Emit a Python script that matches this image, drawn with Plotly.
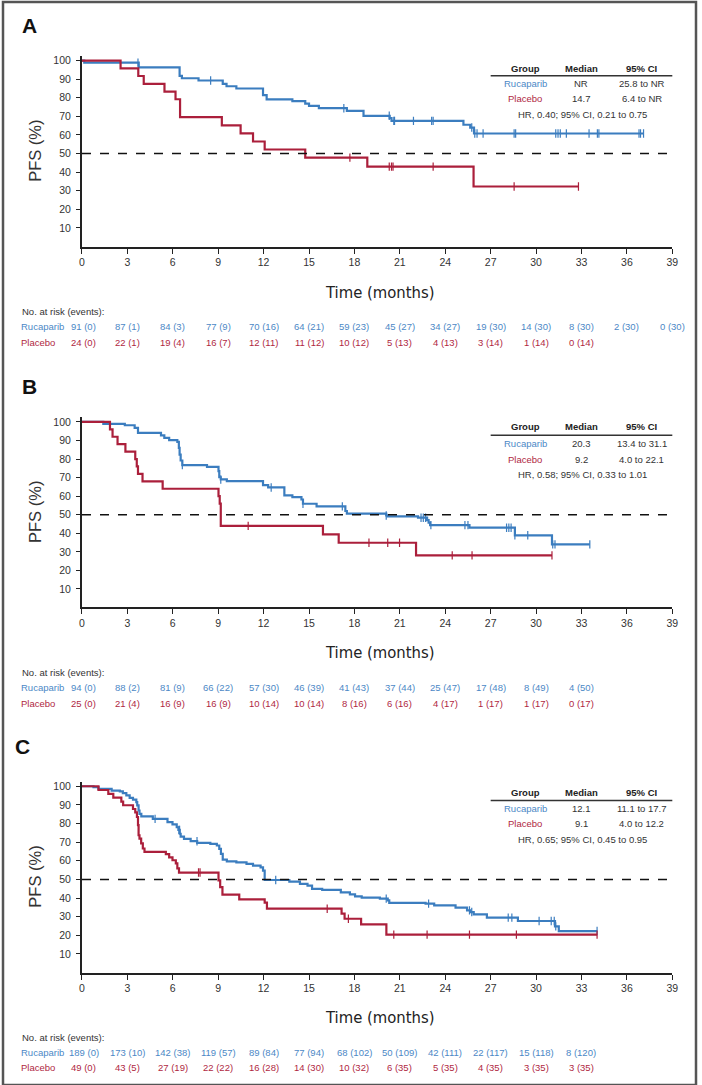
import plotly.graph_objects as go

W, H = 702, 1085
BLUE = "#3b7dbf"
RED = "#ab1f3b"
BLUE_TXT = "#4c88c6"
RED_TXT = "#b0283f"
DARK = "#222222"
FONT = "Liberation Sans, Arial, Helvetica, sans-serif"
NARROW = "Liberation Sans Narrow, Arial Narrow, DejaVu Sans Condensed, sans-serif"

month_ticks = list(range(0, 40, 3))
pct_ticks = list(range(10, 101, 10))

# ---------------- Panel A ----------------
a_ruc_t = [0.15, 3.75, 6.45, 6.6, 7.7, 9.3, 9.55, 10.2, 11.96, 12.2, 13.9, 14.75, 15.0, 15.65,
           17.5, 18.6, 20.33, 20.45, 25.2, 25.65, 25.9]
a_ruc_s = [98.9, 96.3, 91.8, 90.5, 89.3, 87.5, 86.2, 85.0, 81.4, 79.1, 78.2, 76.9, 75.7, 74.4,
           73.0, 70.3, 69.1, 67.6, 65.5, 64.0, 60.8]
a_ruc_c = [3.7, 8.5, 17.3, 20.3, 20.6, 20.65, 21.9, 23.1, 23.2, 25.75, 25.95, 26.1, 26.5,
           28.55, 28.65, 31.3, 31.45, 31.6, 32.0, 33.5, 34.05, 34.15, 36.8, 36.9, 37.1]
a_pla_t = [2.55, 3.72, 4.08, 5.45, 6.18, 6.48, 9.24, 10.48, 11.3, 12.07, 14.75, 18.85, 25.87]
a_pla_s = [95.8, 91.7, 87.5, 83.3, 79.2, 69.6, 65.2, 60.9, 56.5, 52.2, 47.8, 43.0, 32.3]
a_pla_c = [17.7, 20.3, 20.45, 20.55, 23.2, 28.55, 32.8]
a_ruc_risk = ["91 (0)", "87 (1)", "84 (3)", "77 (9)", "70 (16)", "64 (21)", "59 (23)", "45 (27)",
              "34 (27)", "19 (30)", "14 (30)", "8 (30)", "2 (30)", "0 (30)"]
a_pla_risk = ["24 (0)", "22 (1)", "19 (4)", "16 (7)", "12 (11)", "11 (12)", "10 (12)", "5 (13)",
              "4 (13)", "3 (14)", "1 (14)", "0 (14)"]
a_table = [["Rucaparib", "NR", "25.8 to NR"], ["Placebo", "14.7", "6.4 to NR"]]
a_hr = "HR, 0.40; 95% CI, 0.21 to 0.75"

# ---------------- Panel B ----------------
b_ruc_t = [1.41, 2.83, 3.48, 3.7, 5.22, 5.44, 5.76, 6.3, 6.4, 6.45, 6.52, 6.63, 8.26, 9.02, 9.07,
           9.17, 9.57, 11.96, 12.3, 13.37, 13.9, 14.5, 14.6, 15.5, 17.4, 17.5, 20.1, 20.2, 22.2,
           22.8, 22.9, 23.0, 25.6, 28.6, 31.05]
b_ruc_s = [98.9, 98.2, 96.8, 94.1, 92.8, 91.4, 90.2, 89.3, 86.0, 82.4, 79.2, 76.7, 75.8, 73.5, 70.2,
           69.0, 68.1, 65.9, 64.7, 60.4, 59.5, 58.2, 55.9, 54.5, 52.0, 50.6, 49.6, 49.1, 48.4,
           47.1, 45.7, 44.4, 43.0, 38.9, 34.0]
b_ruc_c = [6.63, 9.17, 12.5, 14.6, 17.2, 20.1, 22.4, 22.55, 22.7, 23.05, 25.3, 25.5, 28.05, 28.2,
           28.35, 28.6, 29.45, 31.1, 31.25, 33.55]
b_pla_t = [1.85, 2.02, 2.35, 2.87, 3.52, 3.62, 3.7, 4.0, 5.33, 9.02, 9.1, 9.17, 15.92, 16.96, 22.07]
b_pla_s = [96.0, 92.0, 88.0, 84.0, 80.0, 76.0, 72.0, 68.0, 64.0, 60.0, 56.0, 44.0, 39.4, 34.9, 28.1]
b_pla_c = [10.98, 18.96, 20.2, 20.98, 24.46, 25.77, 31.05]
b_ruc_risk = ["94 (0)", "88 (2)", "81 (9)", "66 (22)", "57 (30)", "46 (39)", "41 (43)", "37 (44)",
              "25 (47)", "17 (48)", "8 (49)", "4 (50)"]
b_pla_risk = ["25 (0)", "21 (4)", "16 (9)", "16 (9)", "10 (14)", "10 (14)", "8 (16)", "6 (16)",
              "4 (17)", "1 (17)", "1 (17)", "0 (17)"]
b_table = [["Rucaparib", "20.3", "13.4 to 31.1"], ["Placebo", "9.2", "4.0 to 22.1"]]
b_hr = "HR, 0.58; 95% CI, 0.33 to 1.01"

# ---------------- Panel C ----------------
c_ruc_t = [0.76, 1.09, 1.96, 2.5, 2.7, 2.93, 3.15, 3.37, 3.59, 3.65, 3.74, 3.8, 3.92, 4.68, 5.65,
           5.98, 6.26, 6.37, 6.46, 6.52, 6.74, 7.18, 7.61, 8.48, 8.91, 9.07, 9.18, 9.3, 9.57, 10.2,
           10.87, 11.3, 11.8, 11.96, 12.07, 13.7, 14.4, 14.9, 15.2, 15.87, 17.1, 17.7, 18.04,
           18.48, 19.68, 20.2, 20.3, 22.7, 23.27, 24.68, 25.44, 25.66, 25.88, 26.75, 28.8, 31.25,
           31.5]
c_ruc_s = [99.5, 98.6, 97.7, 97.2, 96.3, 95.1, 93.8, 92.8, 91.5, 89.7, 87.0, 85.2, 83.8, 82.5, 80.7,
           79.5, 78.0, 76.6, 74.5, 73.0, 71.8, 70.5, 69.6, 69.1, 68.2, 66.4, 63.7, 60.6, 59.7, 59.2,
           58.3, 57.4, 56.5, 54.7, 49.7, 48.8, 47.6, 46.7, 44.9, 44.4, 43.1, 42.0, 40.9,
           40.2, 39.7, 38.8, 37.4, 37.0, 36.1, 34.9, 33.4, 32.5, 31.3, 29.5, 27.7, 24.8,
           22.3]
c_ruc_c = [4.83, 6.4, 6.45, 7.6, 12.8, 20.1, 22.9, 25.6, 25.75, 28.16, 28.4, 30.2, 31.0, 31.2,
           31.3, 34.03]
c_pla_t = [1.09, 1.74, 2.07, 2.6, 2.72, 3.37, 3.52, 3.63, 3.7, 3.74, 3.8, 3.91, 4.02, 4.13, 5.54,
           5.76, 5.98, 6.2, 6.3, 6.41, 9.02, 9.13, 9.28, 10.39, 12.07, 12.22, 17.15, 17.35, 18.44,
           20.11]
c_pla_s = [98.0, 95.9, 93.9, 91.8, 89.8, 87.8, 86.0, 83.5, 79.1, 73.7, 71.9, 69.3, 66.6, 64.8, 63.6,
           61.8, 60.3, 58.6, 55.9, 53.7, 49.5, 45.9, 41.8, 39.3, 37.5, 34.3, 31.6, 28.9, 25.9,
           20.4]
c_pla_c = [7.7, 7.8, 16.2, 17.6, 20.6, 22.8, 25.6, 28.7, 34.03]
c_ruc_risk = ["189 (0)", "173 (10)", "142 (38)", "119 (57)", "89 (84)", "77 (94)", "68 (102)",
              "50 (109)", "42 (111)", "22 (117)", "15 (118)", "8 (120)"]
c_pla_risk = ["49 (0)", "43 (5)", "27 (19)", "22 (22)", "16 (28)", "14 (30)", "10 (32)", "6 (35)",
              "5 (35)", "4 (35)", "3 (35)", "3 (35)"]
c_table = [["Rucaparib", "12.1", "11.1 to 17.7"], ["Placebo", "9.1", "4.0 to 12.2"]]
c_hr = "HR, 0.65; 95% CI, 0.45 to 0.95"

table_header = ["Group", "Median", "95% CI"]


def step_xy(times, surv, cens):
    end = max([times[-1]] + cens)
    return [0] + times + [end], [100] + surv + [surv[-1]]


def surv_at(times, surv, t):
    s = 100
    for ti, si in zip(times, surv):
        if ti <= t:
            s = si
    return s


def px(x):
    return x / W


def py(y):
    return 1 - y / H


panels = [
    dict(letter="A", letter_xy=(27, 24), y0=245.0, ppu=1.863,
         ruc=(a_ruc_t, a_ruc_s, a_ruc_c), pla=(a_pla_t, a_pla_s, a_pla_c),
         risk=(a_ruc_risk, a_pla_risk), table=a_table, hr=a_hr,
         table_y=(67, 74, 82, 97, 113), time_y=291, risk_y=(310, 325.5, 341)),
    dict(letter="B", letter_xy=(27, 385.5), y0=606.6, ppu=1.859,
         ruc=(b_ruc_t, b_ruc_s, b_ruc_c), pla=(b_pla_t, b_pla_s, b_pla_c),
         risk=(b_ruc_risk, b_pla_risk), table=b_table, hr=b_hr,
         table_y=(425.5, 434, 442, 458, 473), time_y=652, risk_y=(671.5, 686.5, 702.5)),
    dict(letter="C", letter_xy=(20, 745.5), y0=972.4, ppu=1.867,
         ruc=(c_ruc_t, c_ruc_s, c_ruc_c), pla=(c_pla_t, c_pla_s, c_pla_c),
         risk=(c_ruc_risk, c_pla_risk), table=c_table, hr=c_hr,
         table_y=(792, 800, 808, 823, 839), time_y=1017, risk_y=(1037, 1052.5, 1067.5)),
]

YMAX = 102.5
X_LEFT, X_RIGHT = 80, 678

fig = go.Figure()
layout = dict(width=W, height=H, margin=dict(l=0, r=0, t=0, b=0),
              paper_bgcolor="white", plot_bgcolor="white", showlegend=False)
annotations = []
shapes = []

for i, p in enumerate(panels):
    n = "" if i == 0 else str(i + 1)
    xa, ya = "x" + n, "y" + n
    top_px = p["y0"] - YMAX * p["ppu"]
    layout["xaxis" + n] = dict(
        domain=[px(X_LEFT), px(X_RIGHT)], range=[0, 39], anchor=ya,
        tickvals=month_ticks, ticks="outside", ticklen=5, tickwidth=1.3, tickcolor=DARK,
        showline=True, linecolor=DARK, linewidth=2, showgrid=False, zeroline=False,
        tickfont=dict(family=FONT, size=10.5, color="#333"),
        fixedrange=True)
    layout["yaxis" + n] = dict(
        domain=[py(p["y0"]), py(top_px)], range=[0, YMAX], anchor=xa,
        tickvals=pct_ticks, ticks="outside", ticklen=4, tickwidth=1.3, tickcolor=DARK,
        showline=True, linecolor=DARK, linewidth=2, showgrid=False, zeroline=False,
        tickfont=dict(family=FONT, size=10.5, color="#333"), ticklabelstandoff=3,
        fixedrange=True)

    # 50% reference line
    shapes.append(dict(type="line", xref=xa, yref=ya, x0=0, x1=39, y0=50, y1=50,
                       line=dict(color="#111", width=1.5, dash="dash")))

    for key, color in (("ruc", BLUE), ("pla", RED)):
        t, s, c = p[key]
        xs, ys = step_xy(t, s, c)
        fig.add_trace(go.Scatter(x=xs, y=ys, mode="lines", line=dict(color=color, width=2.2, shape="hv"),
                                 xaxis=xa, yaxis=ya, hoverinfo="skip"))
        fig.add_trace(go.Scatter(x=c, y=[surv_at(t, s, ci) for ci in c], mode="markers",
                                 marker=dict(symbol="line-ns", size=6, color=color,
                                             line=dict(color=color, width=1.2)),
                                 xaxis=xa, yaxis=ya, hoverinfo="skip"))

    # panel letter
    lx, ly = p["letter_xy"]
    annotations.append(dict(text="<b>%s</b>" % p["letter"], x=px(lx), y=py(ly), xref="paper", yref="paper",
                            xanchor="center", yanchor="middle", showarrow=False,
                            font=dict(family=FONT, size=21, color="#111")))
    # axis titles
    annotations.append(dict(text="PFS (%)", x=px(33), y=py((p["y0"] + top_px) / 2), xref="paper",
                            yref="paper", textangle=-90, xanchor="center", yanchor="middle",
                            showarrow=False, font=dict(family=FONT, size=16.5, color="#333")))
    annotations.append(dict(text="Time (months)", x=px(382), y=py(p["time_y"]), xref="paper",
                            yref="paper", xanchor="center", yanchor="middle", showarrow=False,
                            font=dict(family=NARROW, size=16.5, color="#222")))

    # table
    gy, ly_, r1, r2, hy = p["table_y"]
    cols = [529, 586, 647]
    for cx, htxt in zip(cols, table_header):
        annotations.append(dict(text="<b>%s</b>" % htxt, x=px(cx), y=py(gy), xref="paper", yref="paper",
                                xanchor="center", yanchor="middle", showarrow=False,
                                font=dict(family=FONT, size=9.5, color="#222")))
    shapes.append(dict(type="line", xref="paper", yref="paper", x0=px(494), x1=px(678),
                       y0=py(ly_), y1=py(ly_), line=dict(color="#333", width=1.5)))
    for row, ry, col in ((p["table"][0], r1, BLUE_TXT), (p["table"][1], r2, RED_TXT)):
        for j, (cx, txt) in enumerate(zip(cols, row)):
            annotations.append(dict(text=txt, x=px(cx), y=py(ry), xref="paper", yref="paper",
                                    xanchor="center", yanchor="middle", showarrow=False,
                                    font=dict(family=FONT, size=9.5, color=col if j == 0 else "#333")))
    annotations.append(dict(text=p["hr"], x=px(587), y=py(hy), xref="paper", yref="paper",
                            xanchor="center", yanchor="middle", showarrow=False,
                            font=dict(family=FONT, size=9.5, color="#333")))

    # numbers at risk
    ny, rr, rp = p["risk_y"]
    annotations.append(dict(text="No. at risk (events):", x=px(17), y=py(ny), xref="paper", yref="paper",
                            xanchor="left", yanchor="middle", showarrow=False,
                            font=dict(family=FONT, size=9.5, color="#333")))
    for lbl, ry, col, vals in (("Rucaparib", rr, BLUE_TXT, p["risk"][0]),
                               ("Placebo", rp, RED_TXT, p["risk"][1])):
        annotations.append(dict(text=lbl, x=px(16), y=py(ry), xref="paper", yref="paper",
                                xanchor="left", yanchor="middle", showarrow=False,
                                font=dict(family=FONT, size=9.5, color=col)))
        for k, v in enumerate(vals):
            annotations.append(dict(text=v, x=month_ticks[k] + (0.12 if k == 0 else 0), y=py(ry),
                                    xref=xa, yref="paper",
                                    xanchor="center", yanchor="middle", showarrow=False,
                                    font=dict(family=FONT, size=9.5, color=col)))

# outer frame
shapes.append(dict(type="rect", xref="paper", yref="paper", x0=0, x1=1, y0=0, y1=1,
                   line=dict(color="#555", width=2.5)))

layout["annotations"] = annotations
layout["shapes"] = shapes
fig.update_layout(**layout)
fig.write_html("out.html",
               config={"displayModeBar": False},
               post_script="document.body.style.margin='0px';document.body.style.overflow='hidden';")
